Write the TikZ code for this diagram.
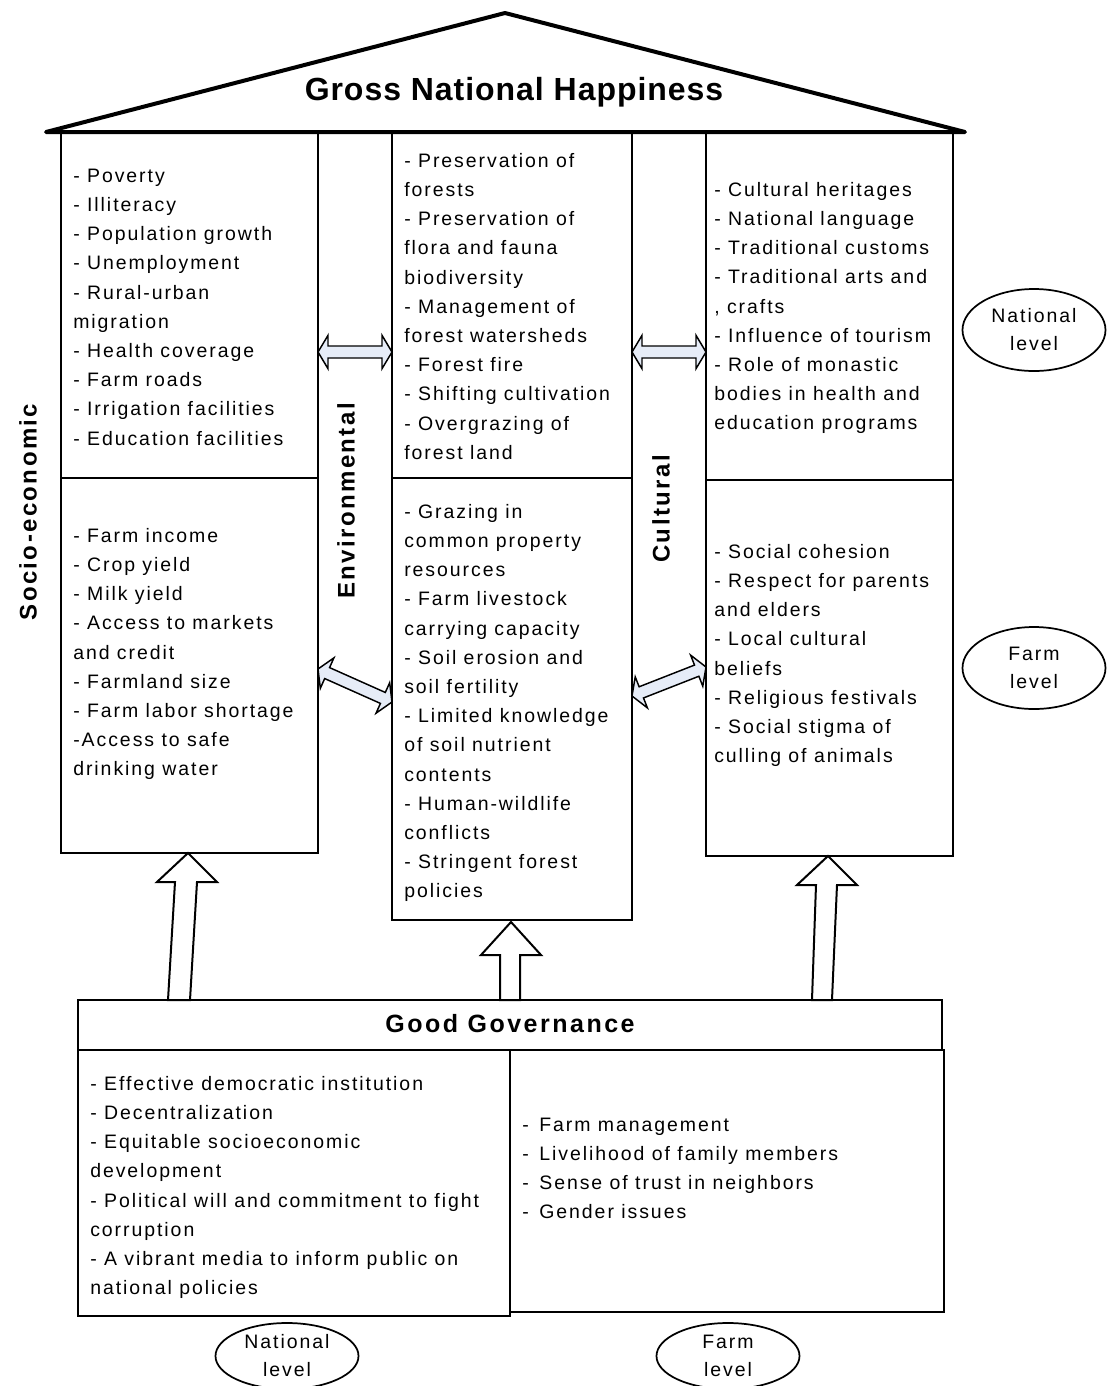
\documentclass[tikz,border=0pt]{standalone}
\usepackage{fontspec}
\setmainfont{Liberation Sans}[LetterSpace=10]
\newfontfamily\titlefont{Liberation Sans}[LetterSpace=3]
\usetikzlibrary{calc,shapes.geometric}
\definecolor{arrfill}{RGB}{230,236,247}
\tikzset{
  box/.style={draw=black, line width=1.5pt},
  blk/.style={anchor=north west, inner sep=0pt, align=left, font=\fontsize{14.6}{21.9}\selectfont},
  lvl/.style={draw, ellipse, line width=1.3pt, inner sep=0pt, minimum width=143*0.75pt, minimum height=82*0.75pt, align=center, font=\fontsize{14.6}{21}\selectfont},
  vlab/.style={rotate=90, inner sep=0pt, font=\bfseries\fontsize{18}{20}\selectfont},
  darr/.style={draw=black, line width=1.1pt, fill=arrfill, line join=miter},
  uarr/.style={draw=black, line width=1.5pt, fill=white, line join=miter},
}
\newcommand\dblarrow[2]{%
  \coordinate (p1) at ($(#1)!7.5pt!(#2)$);
  \coordinate (p2) at ($(#2)!7.5pt!(#1)$);
  \draw[darr] (#1) -- ($(p1)!12.5pt!90:(#2)$) -- ($(p1)!4.5pt!90:(#2)$)
    -- ($(p2)!4.5pt!-90:(#1)$) -- ($(p2)!12.5pt!-90:(#1)$) -- (#2)
    -- ($(p2)!12.5pt!90:(#1)$) -- ($(p2)!4.5pt!90:(#1)$)
    -- ($(p1)!4.5pt!-90:(#2)$) -- ($(p1)!12.5pt!-90:(#2)$) -- cycle;}
\begin{document}
\begin{tikzpicture}[x=0.75pt,y=-0.75pt]
\useasboundingbox[fill=white] (0,0) rectangle (1108,1386);

% roof
\coordinate (rl) at (46,132);
\coordinate (rt) at (505,13);
\coordinate (rr) at (965,132);
\draw[line width=3pt, line join=round] (rl) -- (rt) -- (rr) -- cycle;
\node[font=\titlefont\bfseries\fontsize{24}{26}\selectfont] (gnh) at (514,92) {Gross National Happiness};

% column boxes
\draw[box] (61,132) rectangle (318,853);
\draw[box] (61,478) -- (318,478);
\draw[box] (392,132) rectangle (632,920);
\draw[box] (392,478) -- (632,478);
\draw[box] (706,132) rectangle (953,856);
\draw[box] (706,480) -- (953,480);

% column labels
\node[vlab] (se) at (28,512) {Socio-economic};
\node[vlab] (env) at (346,501) {Environmental};
\node[vlab] (cul) at (661,509) {Cultural};

% texts
\node[blk] (t1) at (73,161.6) {\strut- Poverty\\- Illiteracy\\- Population growth\\- Unemployment\\- Rural-urban\\migration\\- Health coverage\\- Farm roads\\- Irrigation facilities\\- Education facilities};
\node[blk] (t2) at (73,521.6) {\strut- Farm income\\- Crop yield\\- Milk yield\\- Access to markets\\and credit\\- Farmland size\\- Farm labor shortage\\-Access to safe\\drinking water};
\node[blk] (t3) at (404,146.6) {\strut- Preservation of\\forests\\- Preservation of\\flora and fauna\\biodiversity\\- Management of\\forest watersheds\\- Forest fire\\- Shifting cultivation\\- Overgrazing of\\forest land};
\node[blk] (t4) at (404,497.6) {\strut- Grazing in\\common property\\resources\\- Farm livestock\\carrying capacity\\- Soil erosion and\\soil fertility\\- Limited knowledge\\of soil nutrient\\contents\\- Human-wildlife\\conflicts\\- Stringent forest\\policies};
\node[blk] (t5) at (714,175.6) {\strut- Cultural heritages\\- National language\\- Traditional customs\\- Traditional arts and\\, crafts\\- Influence of tourism\\- Role of monastic\\bodies in health and\\education programs};
\node[blk] (t6) at (714,537.6) {\strut- Social cohesion\\- Respect for parents\\and elders\\- Local cultural\\beliefs\\- Religious festivals\\- Social stigma of\\culling of animals};

% double arrows
\coordinate (a1) at (318,352); \coordinate (a2) at (392,352);
\coordinate (a3) at (632,352); \coordinate (a4) at (706,352);
\coordinate (a5) at (318,669); \coordinate (a6) at (392,702);
\coordinate (a7) at (632,696); \coordinate (a8) at (706,667);
\dblarrow{a1}{a2}
\dblarrow{a3}{a4}
\dblarrow{a5}{a6}
\dblarrow{a7}{a8}

% governance
\draw[box] (78,1000) rectangle (942,1050);
\node[font=\bfseries\fontsize{18.75}{20}\selectfont] (gg) at (510,1024) {Good Governance};
\draw[box] (78,1050) rectangle (510,1316);
\draw[box] (510,1050) rectangle (944,1312);
\node[blk] (t7) at (90,1069.6) {\strut- Effective democratic institution\\- Decentralization\\- Equitable socioeconomic\\development\\- Political will and commitment to fight\\corruption\\- A vibrant media to inform public on\\national policies};
\node[blk] (t8) at (522,1110.6) {\strut-\, Farm management\\-\, Livelihood of family members\\-\, Sense of trust in neighbors\\-\, Gender issues};

% up arrows
\draw[uarr] (188,853) -- (217,882) -- (197,882) -- (190,1000) -- (168,1000) -- (175,882) -- (157,882) -- cycle;
\draw[uarr] (511,922) -- (541,955) -- (520,955) -- (520,1000) -- (500,1000) -- (500,955) -- (481,955) -- cycle;
\draw[uarr] (828,856) -- (857,885) -- (837,885) -- (832,1000) -- (812,1000) -- (816,885) -- (797,885) -- cycle;

% level ellipses
\node[lvl] (nl1) at (1034,330) {National\\level};
\node[lvl] (fl1) at (1034,668) {Farm\\level};
\node[lvl, minimum height=66*0.75pt] (nl2) at (287,1356) {National\\level};
\node[lvl, minimum height=66*0.75pt] (fl2) at (728,1356) {Farm\\level};
\end{tikzpicture}
\end{document}
